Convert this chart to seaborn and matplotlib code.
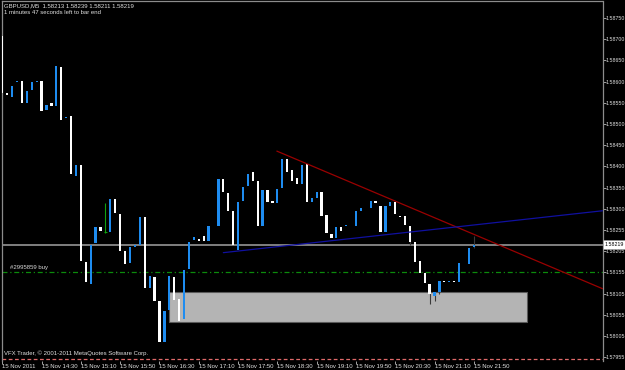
import numpy as np
import pandas as pd
import matplotlib
matplotlib.use("Agg")
import matplotlib.pyplot as plt
import seaborn as sns
from matplotlib.patches import Rectangle

# ---------------- data ----------------
opens = [1.58708, 1.58574, 1.58565, 1.58600, 1.58602, 1.58551, 1.58581, 1.58600, 1.58602, 1.58534,
         1.58551, 1.58544, 1.58635, 1.58516, 1.58520, 1.58380, 1.58405, 1.58178, 1.58127, 1.58223,
         1.58260, 1.58248, 1.58248, 1.58326, 1.58291, 1.58204, 1.58176, 1.58213, 1.58218, 1.58284,
         1.58117, 1.58143, 1.58087, 1.57991, 1.58066, 1.58143, 1.58091, 1.58045, 1.58162, 1.58230,
         1.58232, 1.58239, 1.58227, 1.58263, 1.58263, 1.58373, 1.58340, 1.58298, 1.58206, 1.58321,
         1.58356, 1.58389, 1.58368, 1.58263, 1.58347, 1.58321, 1.58316, 1.58352, 1.58420, 1.58394,
         1.58375, 1.58361, 1.58408, 1.58319, 1.58328, 1.58342, 1.58288, 1.58244, 1.58234, 1.58260,
         1.58263, 1.58265, 1.58263, 1.58298, 1.58305, 1.58305, 1.58321, 1.58309, 1.58248, 1.58309,
         1.58319, 1.58286, 1.58286, 1.58263, 1.58225, 1.58180, 1.58152, 1.58127, 1.58098, 1.58108,
         1.58134, 1.58131, 1.58134, 1.58131, 1.58176, 1.58173, 1.58213]
closes = [1.58574, 1.58570, 1.58591, 1.58602, 1.58551, 1.58579, 1.58600, 1.58602, 1.58532, 1.58546,
          1.58544, 1.58638, 1.58511, 1.58518, 1.58384, 1.58405, 1.58180, 1.58131, 1.58218, 1.58260,
          1.58251, 1.58248, 1.58326, 1.58293, 1.58204, 1.58173, 1.58213, 1.58218, 1.58284, 1.58117,
          1.58145, 1.58087, 1.57991, 1.58063, 1.58145, 1.58089, 1.58040, 1.58159, 1.58225, 1.58237,
          1.58228, 1.58227, 1.58263, 1.58263, 1.58373, 1.58342, 1.58298, 1.58218, 1.58319, 1.58354,
          1.58384, 1.58368, 1.58263, 1.58347, 1.58319, 1.58316, 1.58349, 1.58420, 1.58389, 1.58368,
          1.58361, 1.58405, 1.58319, 1.58328, 1.58342, 1.58286, 1.58246, 1.58234, 1.58260, 1.58251,
          1.58265, 1.58265, 1.58298, 1.58305, 1.58305, 1.58321, 1.58316, 1.58248, 1.58309, 1.58319,
          1.58291, 1.58284, 1.58265, 1.58225, 1.58178, 1.58152, 1.58129, 1.58103, 1.58108, 1.58134,
          1.58131, 1.58134, 1.58131, 1.58176, 1.58176, 1.58211, 1.58219]

# visible wicks (bar index, high, low)
wick_idx = [21, 83, 87, 88, 89, 96]
wick_high = [1.58316, 1.58263, 1.58127, 1.58108, 1.58134, 1.58239]
wick_low = [1.58246, 1.58218, 1.58080, 1.58087, 1.58103, 1.58211]

x_tick_bars = [0, 8, 16, 24, 32, 40, 48, 56, 64, 72, 80, 88, 96]
x_tick_labels = ["15 Nov 2011", "15 Nov 14:30", "15 Nov 15:10", "15 Nov 15:50", "15 Nov 16:30",
                 "15 Nov 17:10", "15 Nov 17:50", "15 Nov 18:30", "15 Nov 19:10", "15 Nov 19:50",
                 "15 Nov 20:30", "15 Nov 21:10", "15 Nov 21:50"]
y_tick_labels = ["1.58750", "1.58700", "1.58650", "1.58600", "1.58550", "1.58500", "1.58450",
                 "1.58400", "1.58350", "1.58300", "1.58255", "1.58205", "1.58155", "1.58105",
                 "1.58055", "1.58005", "1.57955"]
y_tick_top = 1.58750
y_tick_step = 0.000496875

bid_price = 1.58219
order_price = 1.58155
order_label = "#2995859 buy"
floor_line_price = 1.57951

rect_bars = [33.9, 106.9]
rect_prices = [1.58038, 1.58107]

red_x = [55.9, 85.1]
red_y = [1.58438, 1.58296]
blue_x = [45.0, 85.1]
blue_y = [1.58200, 1.58251]

header1 = "GBPUSD,M5  1.58213 1.58239 1.58211 1.58219"
header2 = "1 minutes 47 seconds left to bar end"
footer = "VFX Trader, \u00a9 2001-2011 MetaQuotes Software Corp."

# ---------------- style ----------------
sns.set_theme(style="dark")
plt.rcParams["font.family"] = ["Liberation Sans", "DejaVu Sans"]
FS = 4.3
FSY = 3.8

W, H = 625, 370
fig = plt.figure(figsize=(W / 100, H / 100), dpi=100, facecolor="black")
ax = fig.add_axes([2 / W, 1 - 361 / H, 600.5 / W, 360 / H])
ax.set_facecolor("black")
XMIN, XMAX = -0.06, 122.2
ax.set_xlim(XMIN, XMAX)
ax.set_ylim(1.579461, 1.587898)
ax.grid(False)

df = pd.DataFrame({"bar": np.arange(len(opens)), "open": opens, "close": closes})
df["lo"] = df[["open", "close"]].min(axis=1)
df["hi"] = df[["open", "close"]].max(axis=1)

# rectangle object
ax.add_patch(Rectangle((rect_bars[0], rect_prices[0]), rect_bars[1] - rect_bars[0],
                       rect_prices[1] - rect_prices[0], facecolor="#b4b4b4",
                       edgecolor="#5a5a5a", linewidth=0.8, zorder=1))

# bid line
ax.axhline(bid_price, color="#8a8a8a", lw=1.3, zorder=2)
# order line
ax.axhline(order_price, color="#0c8a0c", lw=0.9, ls=(0, (4, 2.2, 1, 2.2)), zorder=2)
ax.text(1.5, order_price + 0.00004, order_label, color="#d8d8d8", fontsize=FS,
        va="bottom", ha="left", zorder=6)
# floor dashed line
ax.axhline(floor_line_price, color="#e06a6a", lw=0.9, ls=(0, (3, 2)), zorder=2)

# wicks
wick_df = pd.DataFrame({"bar": wick_idx, "high": wick_high, "low": wick_low})
wick_colors = ["#10a010" if opens[i] == closes[i] else "#3a3a3a" for i in wick_idx]
ax.vlines(wick_df["bar"], wick_df["low"], wick_df["high"], colors=wick_colors, lw=0.8, zorder=3)

# candle bodies
body = df[df["open"] != df["close"]]
colors = np.where(body["close"] > body["open"], "#1e8cf0", "#ffffff")
heights = np.maximum(body["hi"] - body["lo"], 0.000028)
ax.bar(body["bar"], heights, bottom=body["lo"], width=0.46, color=colors,
       linewidth=0, zorder=4)

# visible doji crosses
doji = [i for i in wick_idx if opens[i] == closes[i]]
ax.hlines([opens[i] for i in doji], [i - 0.25 for i in doji], [i + 0.25 for i in doji],
          colors="#10a010", lw=0.8, zorder=4)

# trend lines (rays to the right edge)
def ray(xs, ys):
    s = (ys[1] - ys[0]) / (xs[1] - xs[0])
    return pd.DataFrame({"x": [xs[0], XMAX], "y": [ys[0], ys[0] + s * (XMAX - xs[0])]})

r = ray(red_x, red_y)
b = ray(blue_x, blue_y)
sns.lineplot(data=r, x="x", y="y", ax=ax, color="#9a0000", lw=0.9, zorder=5)
sns.lineplot(data=b, x="x", y="y", ax=ax, color="#1010a0", lw=0.9, zorder=5)

# axes decoration
for side in ["left", "top", "right"]:
    ax.spines[side].set_visible(True)
    ax.spines[side].set_color("#8c8c8c")
    ax.spines[side].set_linewidth(0.9)
ax.spines["bottom"].set_visible(False)

ax.set_xticks(x_tick_bars)
ax.set_xticklabels(x_tick_labels, ha="left")
yt = [y_tick_top - k * y_tick_step for k in range(len(y_tick_labels))]
ax.set_yticks(yt)
ax.set_yticklabels(y_tick_labels)
ax.yaxis.tick_right()
ax.tick_params(axis="x", direction="out", length=2.2, width=0.6, color="#bbbbbb",
               labelcolor="#e0e0e0", labelsize=FS, pad=0.2, bottom=True)
ax.tick_params(axis="y", direction="out", length=1.8, width=0.6, color="#bbbbbb",
               labelcolor="#e0e0e0", labelsize=FSY, pad=0.3, right=True, left=False)
ax.set_xlabel("")
ax.set_ylabel("")

# bid price box on the axis
ax.annotate(f"{bid_price:.5f}", xy=(1.0, bid_price), xycoords=("axes fraction", "data"),
            xytext=(1.6, 0), textcoords="offset points", fontsize=FSY, color="black",
            va="center", ha="left", annotation_clip=False, zorder=10,
            bbox=dict(boxstyle="square,pad=0.35", fc="white", ec="#999999", lw=0.5))

# header / footer text
fig.text(4 / W, 1 - 6 / H, header1, color="#e0e0e0", fontsize=FS, va="center", ha="left")
fig.text(4 / W, 1 - 13 / H, header2, color="#e0e0e0", fontsize=FS, va="center", ha="left")
fig.text(4 / W, 1 - 353 / H, footer, color="#e0e0e0", fontsize=FS, va="center", ha="left")

fig.savefig("out.png", dpi=100, facecolor="black")
